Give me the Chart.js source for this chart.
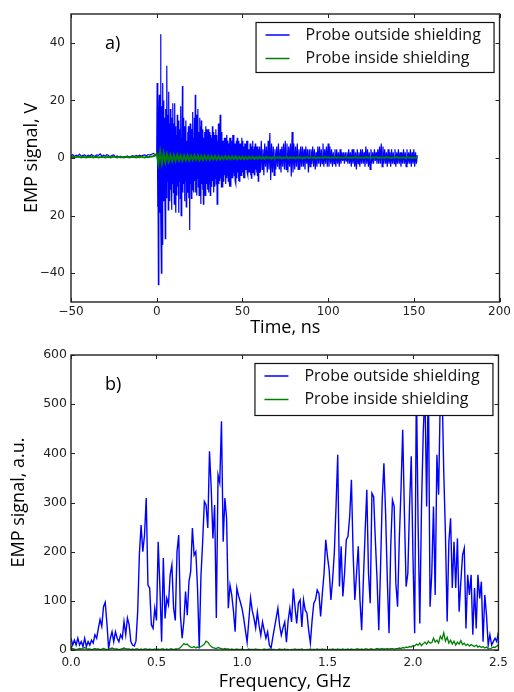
<!DOCTYPE html>
<html>
<head>
<meta charset="utf-8">
<script src="https://cdn.jsdelivr.net/npm/chart.js@4/dist/chart.umd.min.js"></script>
<style>
  html, body { margin: 0; padding: 0; background: #fff; }
  canvas { display: block; }
</style>
</head>
<body>
<canvas id="timeChart" width="514" height="340"></canvas>
<canvas id="freqChart" width="514" height="352"></canvas>
<script>
// series names (shared by both panels)
const seriesNames = ['Probe outside shielding', 'Probe inside shielding'];

// ---- panel a) : time trace ----
// blue, t = -50 .. -1 ns, 1 ns step
const outsidePre = [0.8,1.2,0.5,1.0,0.7,1.3,0.6,0.9,1.1,0.5, 1.0,0.7,1.2,0.8,0.6,1.1,0.9,1.4,0.7,1.0,
  0.6,1.2,0.8,0.5,0.9,1.1,0.4,0.7,0.3,0.6, 0.2,0.5,0.4,0.7,0.3,0.6,0.8,0.5,0.9,0.6,
  1.0,0.7,0.9,1.1,0.8,1.2,1.0,1.3,1.6,1.2];
// blue, t = 0 .. 59.75 ns, 0.25 ns step (one row per ns)
const outsideEarly = [
  1,26,-17,12,  -44,15,22,-19,  10,43,-22,-40,  18,-30,26,-12,  20,-15,14,-9,
  -28,17,10,-14,  32,-8,15,-18,  23,-10,12,-15,  17,-11,8,-18,  14,-9,19,-12,
  12,-16,19,-7,  11,-19,8,-13,  15,-10,9,-19,  13,-8,10,-14,  18,-20,7,-11,
  25,-12,14,-9,  11,-15,9,-8,  13,-17,6,-10,  9,-12,11,-14,  8,-25,12,-9,
  12,-14,10,-11,  16,-9,7,-12,  14,-8,22,-12,  15,-13,10,-7,  17,-10,9,-13,
  14,-8,11,-16,  13,-9,8,-11,  10,-16,7,-12,  9,-13,11,-8,  10,-9,7,-11,
  10,-12,6,-9,  9,-13,8,-7,  7,-10,11,-8,  9,-12,6,-10,  8,-7,10,-9,
  8,-16,6,-11,  12,-9,7,-8,  15,-7,9,-10,  9,-10,6,-8,  6,-8,7,-6,
  7,-9,5,-7,  8,-6,6,-8,  5,-8,7,-10,  7,-10,4,-7,  6,-7,8,-5,
  8,-6,5,-8,  5,-9,6,-7,  7,-5,4,-8,  6,-8,5,-6,  5,-6,7,-5,
  6,-5,4,-7,  4,-7,5,-4,  5,-4,6,-5,  6,-6,3,-5,  3,-5,5,-6,
  5,-7,4,-5,  6,-4,3,-5,  4,-6,5,-4,  3,-5,4,-6,  4,-8,3,-5];
// blue, t = 60 .. 152 ns, 0.5 ns step
const outsideLate = [
  4,-5,6,-4,3,-6,5,-3,4,-5,
  6,-4,8.7,-7.6,5,-5,4,-6,3,-4,
  4,-3,5,-4,3,-5,4,-3,5,-4,
  6,-4,5,-5,4,-3,5,-6.4,9,-5,
  5,-4,4,-3,5,-4,3,-4,4,-3,
  4,-3,3,-4,4,-2,3,-5,3,-3,
  3,-2,4,-3,3,-4,2,-3,4,-2,
  4,-3,3,-2,5,-3,3,-2,4,-3,
  5,-3,4,-2,3,-3,2,-2,3,-3,
  3,-2,2,-3,3,-2,2,-1,2,-2,
  2,-1,2,-2,3,-2,2,-3,3,-2,
  3,-3,2,-4,3,-2,2,-3,3,-2,
  3,-2,2,-3,4,-2,3,-3,2,-4,
  3,-2,2,-2,3,-1,2,-2,3,-2,
  4,-2,5,-3,4,-2,3,-2,2,-3,
  3,-2,2,-3,3,-2,2,-2,3,-3,
  2,-2,3,-2,2,-3,2,-2,3,-2,
  2,-3,3,-2,2,-2,3,-3,2,-2,
  3,-3,2,-2,1];
// green, t = -50 .. -1 ns, 1 ns step
const insidePre = [0.3,0.4,0.2,0.3,0.5,0.3,0.2,0.4,0.3,0.2, 0.4,0.3,0.5,0.2,0.3,0.4,0.2,0.3,0.4,0.3,
  0.2,0.3,0.4,0.2,0.3,0.5,0.3,0.2,0.4,0.3, 0.3,0.2,0.4,0.3,0.2,0.3,0.4,0.3,0.2,0.4,
  0.3,0.5,0.3,0.2,0.4,0.3,0.4,0.5,0.6,0.8];
// green, t = 0 .. 152 ns, 1 ns step
const insidePost = [
  1.5,-2.0,2.2,-1.8,1.6,-1.4,1.3,-1.2,1.1,-1.0,
  1.0,-0.9,1.1,-0.8,0.9,-0.9,0.8,-0.7,0.9,-0.8,
  0.8,-0.7,0.9,-0.6,0.8,-0.7,0.7,-0.6,0.8,-0.5,
  0.7,-0.6,0.6,-0.5,0.7,-0.5,0.6,-0.5,0.5,-0.4,
  0.6,-0.4,0.5,-0.4,0.5,-0.3,0.5,-0.4,0.4,-0.3,
  0.5,-0.3,0.4,-0.3,0.4,-0.2,0.4,-0.3,0.3,-0.2,
  0.4,-0.2,0.3,-0.2,0.4,-0.1,0.3,-0.2,0.3,-0.1,
  0.3,0.0,0.3,-0.1,0.2,0.0,0.3,-0.1,0.2,0.0,
  0.2,-0.1,0.3,0.0,0.2,-0.1,0.2,0.1,0.3,0.0,
  0.2,0.0,0.3,-0.1,0.2,0.1,0.2,0.0,0.3,0.1,
  0.2,0.0,0.2,0.1,0.3,0.0,0.2,0.1,0.2,0.0,
  0.3,0.1,0.2,0.0,0.2,0.1,0.3,0.0,0.2,0.1,
  0.2,0.0,0.3,0.1,0.2,0.0,0.2,0.1,0.3,0.0,
  0.2,0.1,0.2,0.0,0.3,0.1,0.2,0.0,0.2,0.1,
  0.3,0.0,0.2,0.1,0.2,0.0,0.3,0.1,0.2,0.0,
  0.2,0.1,0.3];
const timeTicks = [-50, 0, 50, 100, 150, 200];
const voltTicks = [-40, -20, 0, 20, 40];

// ---- panel b) : spectrum, 0 .. 2.5 GHz, 0.01 GHz step ----
const freqStep = 0.01;
const spectrumOutside = [
  24,10,20,10,24,10,17,7,24,7, 17,10,20,14,31,24,44,62,48,88,
  97,55,3,24,37,17,37,24,17,31, 24,58,31,65,51,17,10,8,18,78,
  195,254,200,234,309,132,126,51,44,85, 60,220,126,17,187,64,105,92,153,173,
  85,60,200,234,70,24,58,119,71,139, 160,248,193,200,126,3,150,220,302,295,
  248,404,329,227,295,65,356,340,465,220, 309,268,85,132,112,80,37,126,110,98,
  85,65,40,16,60,106,80,65,45,77, 50,30,57,40,24,37,10,4,25,45,
  65,85,50,30,45,57,16,60,85,57,
  125,88,54,95,102,47,102,81,75,40,
  14,60,95,102,122,115,68,115,156,224,
  190,163,102,143,197,292,397,129,211,109,
  156,224,231,272,346,197,102,156,211,102,
  40,143,238,326,156,95,319,312,224,143,
  40,163,305,380,278,143,34,211,305,292,
  136,88,224,326,448,278,129,156,292,394,
  190,34,545,258,54,292,441,530,292,560,
  88,156,292,112,397,316,520,540,363,234,
  58,220,268,126,220,126,227,78,139,193,
  207,44,153,112,153,31,126,44,153,105,
  139,17,112,71,10,31,10,17,24,17,
  37];
const spectrumInside = [
  2,3,2,1,2,3,2,4,5,3, 2,2,1,2,3,2,2,1,2,3,
  2,1,2,3,4,3,2,2,1,2, 3,4,3,2,2,1,2,1,2,2,
  1,2,1,2,2,1,2,1,1,2, 1,2,1,2,2,1,2,1,2,2,
  1,2,2,3,5,9,13,11,12,8, 6,5,7,4,6,5,7,9,12,18,
  16,11,7,5,4,3,5,4,3,2, 3,2,2,1,2,1,
  1,2,1,1,2,1,0,1,2,1, 1,1,2,1,1,0,1,2,1,1,
  2,1,1,1,0,1,2,1,1,2, 1,1,0,1,1,2,1,1,1,2,
  1,0,1,1,2,1,1,1,2,1, 1,2,1,1,0,1,1,2,1,1,
  2,1,1,2,1,1,2,1,2,1, 1,2,2,1,2,1,2,2,1,2,
  2,1,2,3,2,2,3,2,2,3, 2,3,3,2,3,
  3,4,3,5,4,6,5,7,6,
  9,8,12,10,14,9,13,16,12,18,14,
  15,24,16,20,14,28,22,35,18,26,
  14,20,12,18,10,16,12,19,11,14,9,12,8,11,9,
  7,10,6,8,5,7,4,6,3,2,4,6,5,8,10];
const freqTicks = [0, 0.5, 1.0, 1.5, 2.0, 2.5];
const ampTicks = [0, 100, 200, 300, 400, 500, 600];

const BLUE = '#0000ff';
const GREEN = '#008000';
const TICK_FONT = { family: '"DejaVu Sans", sans-serif', size: 12 };
const TITLE_FONT = { family: '"Open Sans", sans-serif', size: 18 };

const minus = v => (v < 0 ? '\u2212' + Math.abs(v) : String(v));

// frame, inward tick marks, legend box and panel tag, drawn over the data like matplotlib
function panelDecor(tag, legendHeight) {
  return {
    id: 'decor',
    afterDraw(chart) {
      const ctx = chart.ctx;
      const a = chart.chartArea;
      const xs = chart.scales.x, ys = chart.scales.y;
      ctx.save();
      ctx.strokeStyle = '#222';
      ctx.lineWidth = 1;
      ctx.beginPath();
      xs.ticks.forEach(t => {
        const px = Math.round(xs.getPixelForValue(t.value)) + 0.5;
        ctx.moveTo(px, a.bottom); ctx.lineTo(px, a.bottom - 4);
        ctx.moveTo(px, a.top); ctx.lineTo(px, a.top + 4);
      });
      ys.ticks.forEach(t => {
        const py = Math.round(ys.getPixelForValue(t.value)) + 0.5;
        ctx.moveTo(a.left, py); ctx.lineTo(a.left + 4, py);
        ctx.moveTo(a.right, py); ctx.lineTo(a.right - 4, py);
      });
      ctx.stroke();
      ctx.lineWidth = 1.4;
      ctx.strokeRect(a.left, a.top, a.right - a.left, a.bottom - a.top);

      // legend
      const lx = a.right - 244, ly = a.top + 8, lw = 238;
      ctx.fillStyle = '#fff';
      ctx.fillRect(lx, ly, lw, legendHeight);
      ctx.lineWidth = 1.2;
      ctx.strokeStyle = '#111';
      ctx.strokeRect(lx + 0.5, ly + 0.5, lw, legendHeight);
      const colors = [BLUE, GREEN];
      ctx.font = '16px "Open Sans", sans-serif';
      ctx.textBaseline = 'middle';
      ctx.textAlign = 'left';
      seriesNames.forEach((name, i) => {
        const y = ly + 13 + i * 23.5;
        ctx.strokeStyle = colors[i];
        ctx.lineWidth = 1.5;
        ctx.beginPath();
        ctx.moveTo(lx + 10, y); ctx.lineTo(lx + 34, y);
        ctx.stroke();
        ctx.fillStyle = '#111';
        ctx.fillText(name, lx + 50, y);
      });

      ctx.font = '18px "Open Sans", sans-serif';
      ctx.fillStyle = '#000';
      ctx.fillText(tag, a.left + 34, a.top + 30);
      ctx.restore();
    }
  };
}

function axisOptions(o) {
  return {
    type: 'linear',
    min: o.min,
    max: o.max,
    afterBuildTicks: s => { s.ticks = o.ticks.map(v => ({ value: v })); },
    afterFit: o.fit,
    grid: { display: false, drawTicks: false },
    border: { display: false },
    ticks: { padding: o.pad, font: o.tickFont || TICK_FONT, color: '#222', callback: o.fmt, maxRotation: 0 },
    title: { display: true, text: o.title, font: TITLE_FONT, color: '#000', padding: o.titlePad }
  };
}

const baseOptions = {
  responsive: false,
  animation: false,
  elements: { point: { radius: 0 }, line: { tension: 0 } },
  plugins: { legend: { display: false }, tooltip: { enabled: false } }
};

// panel a)
const outsideTime = outsidePre.map((v, i) => ({ x: -50 + i, y: v }))
  .concat(outsideEarly.map((v, i) => ({ x: i * 0.25, y: v })))
  .concat(outsideLate.map((v, i) => ({ x: 60 + i * 0.5, y: v })));
const insideTime = insidePre.map((v, i) => ({ x: -50 + i, y: v }))
  .concat(insidePost.map((v, i) => ({ x: i, y: v })));

new Chart(document.getElementById('timeChart'), {
  type: 'line',
  data: {
    datasets: [
      { label: seriesNames[1], data: insideTime, borderColor: GREEN, borderWidth: 2, order: 0 },
      { label: seriesNames[0], data: outsideTime, borderColor: BLUE, borderWidth: 1.2, order: 1 }
    ]
  },
  options: Object.assign({}, baseOptions, {
    layout: { padding: { top: 14, right: 12, left: 0, bottom: 0 } },
    scales: {
      x: axisOptions({ min: -50, max: 200, ticks: timeTicks, fit: s => { s.height = 38; }, pad: 3,
        fmt: v => minus(v), title: 'Time, ns', titlePad: { top: 0, bottom: 1 } }),
      y: axisOptions({ min: -50, max: 50, ticks: voltTicks, fit: s => { s.width = 71; }, pad: 6,
        // the source figure prints -20 without its minus sign
        fmt: v => (v === -20 ? '20' : minus(v)), title: 'EMP signal, V', titlePad: { top: 21, bottom: 0 } })
    }
  }),
  plugins: [panelDecor('a)', 50)]
});

// panel b)
const outsideSpec = spectrumOutside.map((v, i) => ({ x: i * freqStep, y: v }));
const insideSpec = spectrumInside.map((v, i) => ({ x: i * freqStep, y: v }));

new Chart(document.getElementById('freqChart'), {
  type: 'line',
  data: {
    datasets: [
      { label: seriesNames[1], data: insideSpec, borderColor: GREEN, borderWidth: 1.3, order: 0 },
      { label: seriesNames[0], data: outsideSpec, borderColor: BLUE, borderWidth: 1.4, order: 1 }
    ]
  },
  options: Object.assign({}, baseOptions, {
    layout: { padding: { top: 15, right: 12, left: 0, bottom: 0 } },
    scales: {
      x: axisOptions({ min: 0, max: 2.5, ticks: freqTicks, fit: s => { s.height = 42; }, pad: 6,
        fmt: v => v.toFixed(1), title: 'Frequency, GHz', titlePad: { top: 0, bottom: -1 } }),
      y: axisOptions({ min: 0, max: 600, ticks: ampTicks, fit: s => { s.width = 71; }, pad: 4,
        tickFont: { family: '"DejaVu Sans", sans-serif', size: 12.5 },
        fmt: v => String(v), title: 'EMP signal, a.u.', titlePad: { top: 8, bottom: 0 } })
    }
  }),
  plugins: [panelDecor('b)', 52)]
});
</script>
</body>
</html>
